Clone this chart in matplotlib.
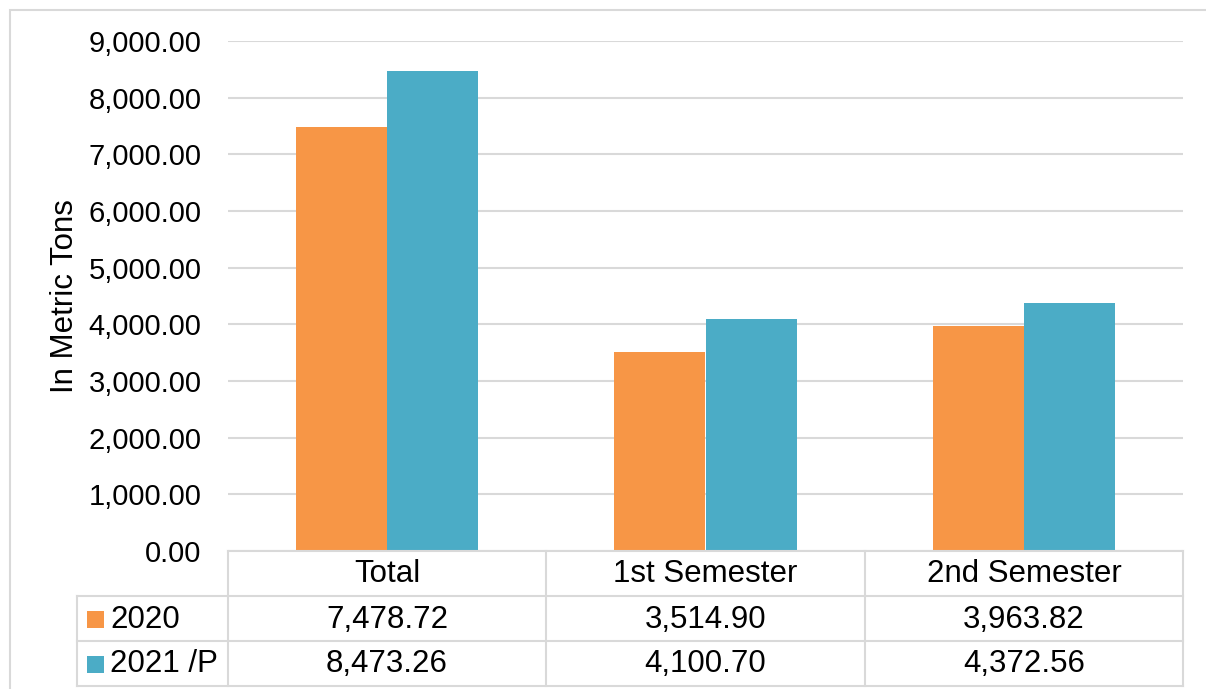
import matplotlib
matplotlib.use("Agg")
import matplotlib.pyplot as plt
from matplotlib.patches import Rectangle
from matplotlib.ticker import FuncFormatter
import numpy as np

categories = ["Total", "1st Semester", "2nd Semester"]
series_names = ["2020", "2021 /P"]
values_2020 = [7478.72, 3514.90, 3963.82]
values_2021 = [8473.26, 4100.70, 4372.56]
colors = ["#F79646", "#4BACC6"]
y_label = "In Metric Tons"

W, H = 1206, 689
plt.rcParams['font.family'] = ['Liberation Sans', 'DejaVu Sans']
fig = plt.figure(figsize=(W / 100, H / 100), dpi=100)

def fx(px):
    return px / W

def fy(py):
    return 1 - py / H

grid_c = "#D9D9D9"
fs = 21
fs_t = 22.5

# outer chart border
fig.patches.append(Rectangle((fx(10), fy(720)), fx(1240) - fx(10), fy(10) - fy(720),
                             transform=fig.transFigure, fill=False, ec=grid_c, lw=1.5))

L, R, T, B = 228, 1183, 41, 551
ax = fig.add_axes([fx(L), fy(B), fx(R) - fx(L), fy(T) - fy(B)])
x = np.arange(len(categories))
bw = 0.286
ax.bar(x - bw / 2, values_2020, bw, color=colors[0], zorder=3)
ax.bar(x + bw / 2, values_2021, bw, color=colors[1], zorder=3)
ax.set_xlim(-0.5, len(categories) - 0.5)
ax.set_ylim(0, 9000)
ax.set_yticks(np.arange(0, 9001, 1000))
ax.yaxis.set_major_formatter(FuncFormatter(lambda v, p: f"{v:,.2f}"))
ax.tick_params(axis='y', length=0, pad=19, labelsize=fs)
ax.set_xticks([])
ax.grid(axis='y', color=grid_c, lw=1.5, zorder=0)
for s in ax.spines.values():
    s.set_visible(False)
ax.set_ylabel(y_label, fontsize=fs_t, labelpad=6)

# data table
rows_y = [551, 596, 641, 686]
col_x = [228, 546, 865, 1183]
left_x = 77

def hline(y, x0, x1):
    fig.add_artist(plt.Line2D([fx(x0), fx(x1)], [fy(y), fy(y)], transform=fig.transFigure,
                              color=grid_c, lw=1.5))

def vline(xp, y0, y1):
    fig.add_artist(plt.Line2D([fx(xp), fx(xp)], [fy(y0), fy(y1)], transform=fig.transFigure,
                              color=grid_c, lw=1.5))

hline(rows_y[0], col_x[0], col_x[-1])
for y in rows_y[1:]:
    hline(y, left_x, col_x[-1])
for xp in col_x:
    vline(xp, rows_y[0], rows_y[-1])
vline(left_x, rows_y[1], rows_y[-1])

for i, c in enumerate(categories):
    cx = (col_x[i] + col_x[i + 1]) / 2
    fig.text(fx(cx), fy((rows_y[0] + rows_y[1]) / 2 + 1), c, ha='center', va='center', fontsize=fs_t)

for r, (name, vals, col) in enumerate(zip(series_names, [values_2020, values_2021], colors)):
    yc = (rows_y[r + 1] + rows_y[r + 2]) / 2
    fig.patches.append(Rectangle((fx(87), fy(yc + 9)), fx(17), 17 / H, transform=fig.transFigure,
                                 fc=col, ec='none'))
    fig.text(fx(110), fy(yc + 1), name, ha='left', va='center', fontsize=fs_t)
    for i, v in enumerate(vals):
        cx = (col_x[i] + col_x[i + 1]) / 2
        fig.text(fx(cx), fy(yc + 1), f"{v:,.2f}", ha='center', va='center', fontsize=fs_t)

fig.savefig("out.png", dpi=100)
